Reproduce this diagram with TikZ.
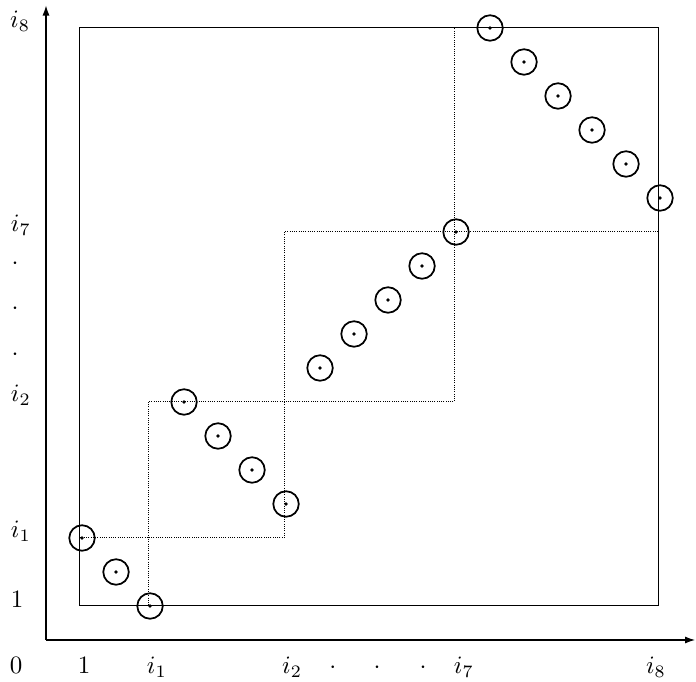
\documentclass[tikz,border=0pt]{standalone}
\usetikzlibrary{arrows.meta}
\begin{document}
\begin{tikzpicture}[x=13.6pt,y=13.6pt,
  pt/.style={circle,draw,line width=0.7pt,minimum size=10.2pt,inner sep=0pt,
    path picture={\fill (path picture bounding box.center) circle (0.75pt);}},
  blk/.style={dash pattern=on 0.4pt off 0.5pt,line width=0.4pt},
  lab/.style={anchor=base,inner sep=0pt},
  axis/.style={line width=0.45pt,-{Latex[length=4pt,width=2.8pt]}}]
\useasboundingbox (-1.3529,-1.2353) rectangle (19.1176,18.8235);
% axes
\coordinate (O) at (0,0);
\coordinate (XE) at (19.09,0);
\coordinate (YE) at (0,18.66);
\draw[axis] (O) -- (XE);
\draw[axis] (O) -- (YE);
% outer square
\coordinate (A) at (1,1);
\coordinate (B) at (18,18);
\draw[line width=0.4pt] (A) rectangle (B);
% diagonal blocks
\coordinate (c3) at (3,3);
\coordinate (c7) at (7,7);
\coordinate (c12) at (12,12);
\draw[blk] (A) rectangle (c3);
\draw[blk] (c3) rectangle (c7);
\draw[blk] (c7) rectangle (c12);
\draw[blk] (c12) rectangle (B);
% points
\node[pt] (p1) at (1.06,3) {};
\node[pt] (p2) at (2.06,2) {};
\node[pt] (p3) at (3.06,1) {};
\node[pt] (p4) at (4.06,7) {};
\node[pt] (p5) at (5.06,6) {};
\node[pt] (p6) at (6.06,5) {};
\node[pt] (p7) at (7.06,4) {};
\node[pt] (p8) at (8.06,8) {};
\node[pt] (p9) at (9.06,9) {};
\node[pt] (p10) at (10.06,10) {};
\node[pt] (p11) at (11.06,11) {};
\node[pt] (p12) at (12.06,12) {};
\node[pt] (p13) at (13.06,18) {};
\node[pt] (p14) at (14.06,17) {};
\node[pt] (p15) at (15.06,16) {};
\node[pt] (p16) at (16.06,15) {};
\node[pt] (p17) at (17.06,14) {};
\node[pt] (p18) at (18.06,13) {};
% x labels
\node[lab] (x0) at (-0.88,-1.0) {$0$};
\node[lab] (x1) at (1.12,-1.0) {$1$};
\node[lab] (xi1) at (3.26,-1.0) {$i_1$};
\node[lab] (xi2) at (7.24,-1.0) {$i_2$};
\node[lab] (xd1) at (8.44,-1.0) {$\cdot$};
\node[lab] (xd2) at (9.74,-1.0) {$\cdot$};
\node[lab] (xd3) at (11.09,-1.0) {$\cdot$};
\node[lab] (xi7) at (12.29,-1.0) {$i_7$};
\node[lab] (xi8) at (17.94,-1.0) {$i_8$};
% y labels
\node[lab] (y1) at (-0.85,0.97) {$1$};
\node[lab] (yi1) at (-0.74,3) {$i_1$};
\node[lab] (yi2) at (-0.74,7) {$i_2$};
\node[lab] (yd1) at (-0.91,8.23) {$\cdot$};
\node[lab] (yd2) at (-0.91,9.56) {$\cdot$};
\node[lab] (yd3) at (-0.91,10.91) {$\cdot$};
\node[lab] (yi7) at (-0.74,12) {$i_7$};
\node[lab] (yi8) at (-0.76,18) {$i_8$};
\end{tikzpicture}
\end{document}
